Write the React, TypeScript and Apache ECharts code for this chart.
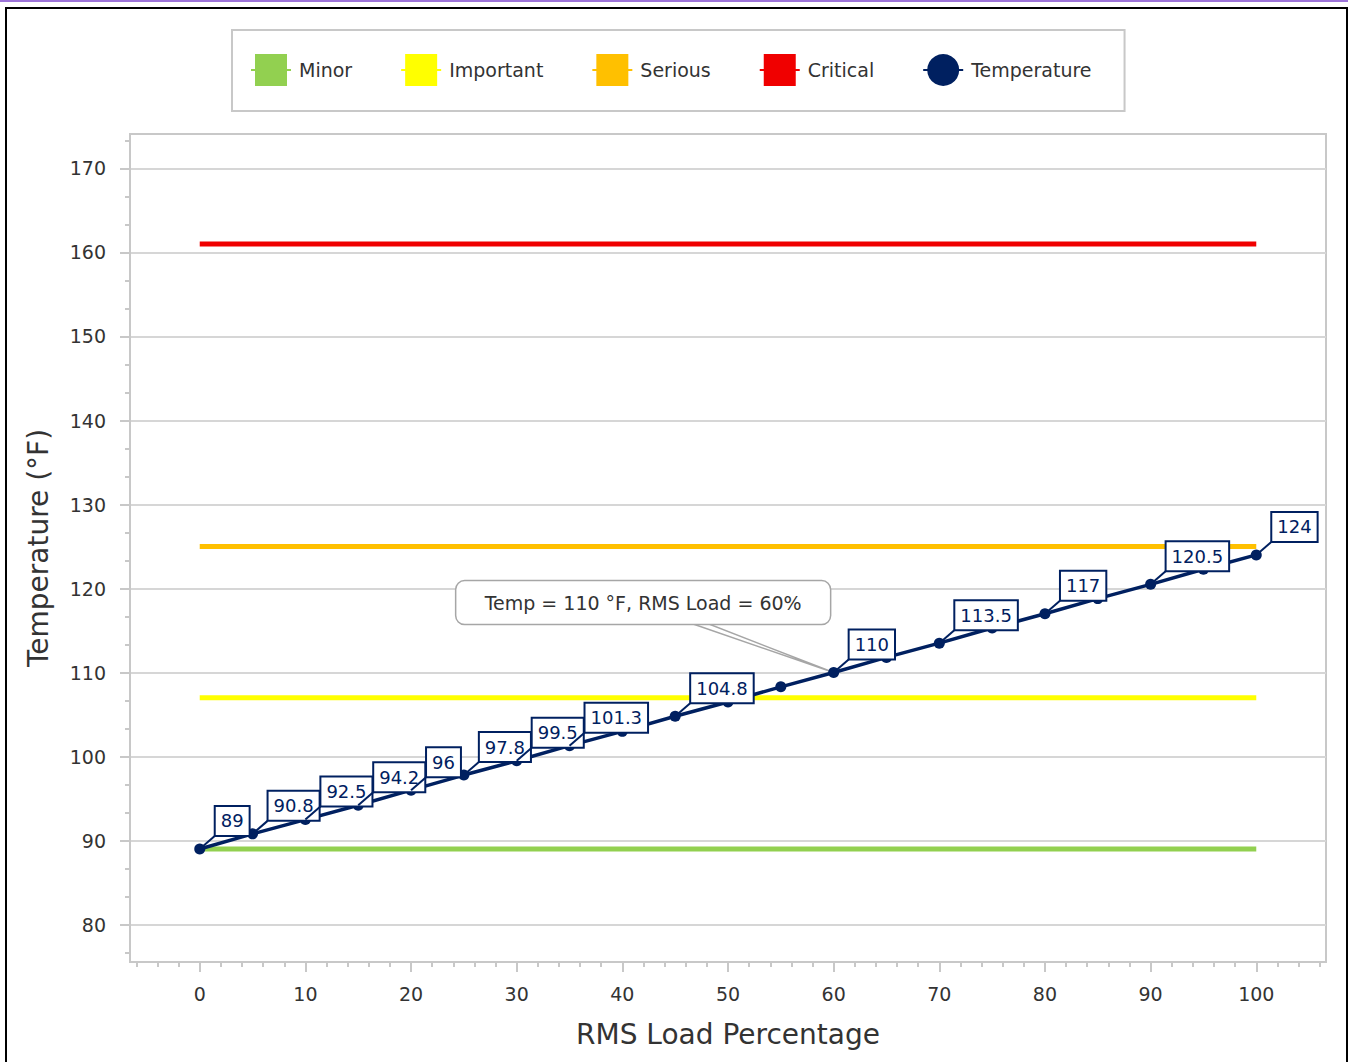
import React, { useEffect, useRef } from "react";
import * as echarts from "echarts";

// ---- data ----
const loads = [0, 5, 10, 15, 20, 25, 30, 35, 40, 45, 50, 55, 60, 65, 70, 75, 80, 85, 90, 95, 100];
const temps = [89, 90.8, 92.5, 94.2, 96, 97.8, 99.5, 101.3, 103, 104.8, 106.5, 108.3, 110, 111.8, 113.5, 115.3, 117, 118.8, 120.5, 122.3, 124];
const labeledLoads = [0, 5, 10, 15, 20, 25, 30, 35, 45, 60, 70, 80, 90, 100];

const thresholdNames = ["Minor", "Important", "Serious", "Critical"];
const thresholdValues = [89, 107, 125, 161];
const thresholdColors = ["#92d050", "#ffff00", "#ffc000", "#f00000"];

const xTicks = [0, 10, 20, 30, 40, 50, 60, 70, 80, 90, 100];
const yTicks = [80, 90, 100, 110, 120, 130, 140, 150, 160, 170];
const xRange = [-6.6, 106.6];
const yRange = [75.55, 174.1];

const calloutPoint = [60, 110];

const NAVY = "#002060";
const GRAY = "#c8c8c8";
const FONT = "DejaVu Sans";

function buildOption() {
  const thresholdSeries = thresholdNames.map((name, i) => ({
    type: "line",
    name,
    data: [
      [xTicks[0], thresholdValues[i]],
      [xTicks[xTicks.length - 1], thresholdValues[i]],
    ],
    symbol: "rect",
    showSymbol: false,
    lineStyle: { width: 5, color: thresholdColors[i] },
    itemStyle: { color: thresholdColors[i] },
    z: 2,
    silent: true,
  }));

  const tempData = loads.map((x, i) => [x, temps[i]]);
  const labelData = labeledLoads.map((x) => [x, temps[loads.indexOf(x)]]);

  return {
    animation: false,
    textStyle: { fontFamily: FONT },
    legend: {
      data: ["Minor", "Important", "Serious", "Critical", "Temperature"],
      left: 232,
      top: 30,
      padding: [24, 33, 25, 18],
      itemWidth: 40,
      itemHeight: 40,
      itemGap: 48,
      borderColor: GRAY,
      borderWidth: 2,
      lineStyle: { width: 2 },
      textStyle: { fontSize: 19, color: "#333", fontFamily: FONT, padding: [0, 0, 0, 3] },
      selectedMode: false,
    },
    grid: {
      left: 130,
      right: 22,
      top: 134,
      bottom: 100,
      show: true,
      borderColor: GRAY,
      borderWidth: 2,
    },
    xAxis: {
      type: "value",
      min: xRange[0],
      max: xRange[1],
      splitNumber: 11,
      name: "RMS Load Percentage",
      nameLocation: "middle",
      nameGap: 58,
      nameTextStyle: { fontSize: 28, color: "#333", fontFamily: FONT },
      axisLine: { show: true, onZero: false, lineStyle: { color: GRAY, width: 2 } },
      axisTick: { show: true, length: 10, customValues: xTicks, lineStyle: { color: GRAY, width: 2 } },
      minorTick: { show: true, splitNumber: 5, length: 5, lineStyle: { color: GRAY, width: 2 } },
      axisLabel: { customValues: xTicks, fontSize: 19, color: "#333", margin: 22, fontFamily: FONT },
      splitLine: { show: false },
    },
    yAxis: {
      type: "value",
      min: yRange[0],
      max: yRange[1],
      splitNumber: 10,
      name: "Temperature (°F)",
      nameLocation: "middle",
      nameGap: 78,
      nameTextStyle: { fontSize: 28, color: "#333", fontFamily: FONT },
      axisLine: { show: true, onZero: false, lineStyle: { color: GRAY, width: 2 } },
      axisTick: { show: true, length: 10, customValues: yTicks, lineStyle: { color: GRAY, width: 2 } },
      minorTick: { show: true, splitNumber: 3, length: 5, lineStyle: { color: GRAY, width: 2 } },
      axisLabel: { customValues: yTicks, fontSize: 19, color: "#333", margin: 24, fontFamily: FONT },
      splitLine: { show: true, lineStyle: { color: "#d6d6d6", width: 2 } },
    },
    series: [
      ...thresholdSeries,
      {
        type: "custom",
        name: "callout",
        data: [calloutPoint],
        z: 3,
        silent: true,
        renderItem: (params: any, api: any) => {
          const load = api.value(0);
          const temp = api.value(1);
          const p = api.coord([load, temp]);
          const text = `Temp = ${temp} °F, RMS Load = ${load}%`;
          return {
            type: "group",
            children: [
              {
                type: "polygon",
                shape: {
                  points: [
                    [p[0] - 142, p[1] - 49],
                    [p[0] - 126, p[1] - 49],
                    [p[0], p[1]],
                  ],
                },
                style: { fill: "#fff", stroke: "#a6a6a6", lineWidth: 1.5 },
              },
              {
                type: "rect",
                shape: { x: p[0] - 378, y: p[1] - 92, width: 375, height: 44, r: 9 },
                style: { fill: "#fff", stroke: "#a6a6a6", lineWidth: 1.5 },
              },
              {
                type: "text",
                x: p[0] - 190.5,
                y: p[1] - 70,
                style: {
                  text,
                  fill: "#333",
                  fontSize: 19,
                  fontFamily: FONT,
                  align: "center",
                  verticalAlign: "middle",
                },
              },
            ],
          };
        },
      },
      {
        type: "line",
        name: "Temperature",
        data: tempData,
        symbol: "circle",
        symbolSize: 11,
        lineStyle: { width: 3.5, color: NAVY },
        itemStyle: { color: NAVY },
        z: 4,
        silent: true,
      },
      {
        type: "custom",
        name: "labels",
        data: labelData,
        z: 5,
        silent: true,
        renderItem: (params: any, api: any) => {
          const x = api.value(0);
          const y = api.value(1);
          const p = api.coord([x, y]);
          const ax = p[0] + 15;
          const ay = p[1] - 13;
          return {
            type: "group",
            children: [
              {
                type: "line",
                shape: { x1: p[0], y1: p[1], x2: ax, y2: ay },
                style: { stroke: NAVY, lineWidth: 2 },
              },
              {
                type: "text",
                x: ax + 1,
                y: ay - 1,
                style: {
                  text: String(y),
                  fill: NAVY,
                  fontSize: 18,
                  fontFamily: FONT,
                  lineHeight: 18,
                  align: "left",
                  verticalAlign: "bottom",
                  backgroundColor: "#fff",
                  borderColor: NAVY,
                  borderWidth: 2,
                  padding: [5, 5, 5, 5],
                },
              },
            ],
          };
        },
      },
    ],
  };
}

export default function App() {
  const ref = useRef<HTMLDivElement>(null);
  useEffect(() => {
    if (!ref.current) return;
    const chart = echarts.init(ref.current, null, { renderer: "svg" });
    chart.setOption(buildOption() as any);
    return () => chart.dispose();
  }, []);
  return (
    <div
      style={{
        position: "absolute",
        left: 0,
        top: 0,
        width: 1348,
        height: 1062,
        overflow: "hidden",
        background: "#fff",
      }}
    >
      <div style={{ position: "absolute", left: 0, top: 0, width: 1348, height: 2, background: "#9d74d9" }} />
      <div
        style={{
          position: "absolute",
          left: 5,
          top: 7,
          width: 1343,
          height: 1200,
          border: "2px solid #000",
          boxSizing: "border-box",
        }}
      />
      <div ref={ref} style={{ position: "absolute", left: 0, top: 0, width: 1348, height: 1062 }} />
    </div>
  );
}
